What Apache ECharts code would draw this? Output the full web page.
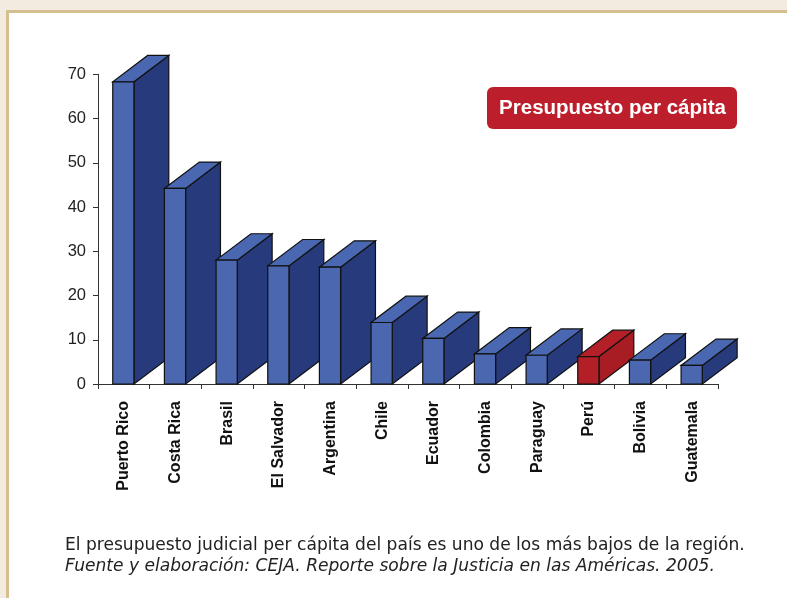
<!DOCTYPE html>
<html><head><meta charset="utf-8">
<script src="https://cdn.jsdelivr.net/npm/echarts@6/dist/echarts.min.js"></script>
<style>html,body{margin:0;padding:0;background:#f3ebdf}#c{width:787px;height:598px}</style>
</head><body><div id="c"></div>
<script>
const categories = ['Puerto Rico','Costa Rica','Brasil','El Salvador','Argentina','Chile','Ecuador','Colombia','Paraguay','Perú','Bolivia','Guatemala'];
const values = [68.3, 44.2, 28.0, 26.7, 26.4, 13.9, 10.3, 6.8, 6.5, 6.2, 5.4, 4.2];
const highlighted = ['Perú'];
const yMin = 0, yMax = 70, yStep = 10;
const legendText = 'Presupuesto per cápita';
const captionLine1 = 'El presupuesto judicial per cápita del país es uno de los más bajos de la región.';
const captionLine2 = 'Fuente y elaboración: CEJA. Reporte sobre la Justicia en las Américas. 2005.';

const ctx = document.createElement('canvas').getContext('2d');
function hasFont(fam){
  ctx.font = 'bold 40px monospace'; const a = ctx.measureText('Presupuesto wi').width;
  ctx.font = 'bold 40px "' + fam + '", monospace'; const b = ctx.measureText('Presupuesto wi').width;
  return Math.abs(a - b) > 0.5;
}
function fitSize(text, prefix, fam, target){
  ctx.font = prefix + ' 100px ' + fam;
  return 100 * target / ctx.measureText(text).width;
}
const legFam = hasFont('Liberation Sans Narrow') ? '"Liberation Sans Narrow", "Liberation Sans", sans-serif' : '"Liberation Sans", sans-serif';
let legSize = fitSize(legendText, 'bold', legFam, 227);
legSize = Math.min(legSize, 24.5);
const capFam = '"DejaVu Sans", sans-serif';
const capSize = fitSize(captionLine1, '', capFam, 680);

const chart = echarts.init(document.getElementById('c'), null, {renderer:'canvas'});

function renderItem(params, api){
  const i = api.value(0), v = api.value(1);
  const top = api.coord([i, v]);
  const base = api.coord([i, 0]);
  const band = api.size([1, 0])[0];
  const w = band * 0.41, dx = band * 0.675, dy = band * 0.51;
  const x0 = top[0] - w / 2 - 0.5, x1 = x0 + w;
  const yt = top[1], yb = base[1];
  const red = highlighted.indexOf(categories[i]) >= 0;
  const front = red ? '#b21f26' : '#4a67b0';
  const side = red ? '#a81d24' : '#263a7c';
  const topc = red ? '#b32027' : '#4a68b2';
  const st = {stroke:'#111', lineWidth:1.2};
  return {type:'group', children:[
    {type:'polygon', shape:{points:[[x1,yb],[x1+dx,yb-dy],[x1+dx,yt-dy],[x1,yt]]}, style:Object.assign({fill:side}, st)},
    {type:'polygon', shape:{points:[[x0,yt],[x1,yt],[x1+dx,yt-dy],[x0+dx,yt-dy]]}, style:Object.assign({fill:topc}, st)},
    {type:'rect', shape:{x:x0, y:yt, width:w, height:yb-yt}, style:Object.assign({fill:front}, st)}
  ]};
}

chart.setOption({
  animation:false,
  backgroundColor:'#f3ebdf',
  graphic:[
    {type:'rect', z:-10, shape:{x:7.5, y:11.5, width:800, height:600}, style:{fill:'#ffffff', stroke:'#d4c08e', lineWidth:3}},
    {type:'rect', z:10, shape:{x:487, y:87, width:250, height:42, r:6}, style:{fill:'#bc1e2c'}},
    {type:'text', z:11, x:612.5, y:108.5, style:{text:legendText, fill:'#ffffff', font:'bold ' + legSize.toFixed(2) + 'px ' + legFam, align:'center', verticalAlign:'middle'}},
    {type:'text', z:11, x:65, y:546, style:{text:captionLine1, fill:'#222', font:capSize.toFixed(2) + 'px ' + capFam, align:'left', verticalAlign:'middle'}},
    {type:'text', z:11, x:65, y:567, style:{text:captionLine2, fill:'#222', font:'italic ' + capSize.toFixed(2) + 'px ' + capFam, align:'left', verticalAlign:'middle'}}
  ],
  grid:{left:98, right:69, top:74.3, bottom:214, containLabel:false},
  xAxis:{
    type:'category', data:categories,
    axisLine:{lineStyle:{color:'#333', width:1}},
    axisTick:{show:true, length:5, lineStyle:{color:'#333'}},
    axisLabel:{rotate:90, margin:17, color:'#111', fontSize:16, fontWeight:'bold', fontFamily:'"Liberation Sans", Arial, sans-serif'}
  },
  yAxis:{
    type:'value', min:yMin, max:yMax, interval:yStep,
    axisLine:{show:true, lineStyle:{color:'#333', width:1}},
    axisTick:{show:true, length:5, lineStyle:{color:'#333'}},
    splitLine:{show:false},
    axisLabel:{margin:12, color:'#222', fontSize:16.5, fontFamily:'"Liberation Sans", Arial, sans-serif'}
  },
  series:[{
    type:'custom', renderItem:renderItem, clip:false,
    encode:{x:0, y:1},
    data: values.map((v, i) => [i, v])
  }]
});
</script></body></html>
